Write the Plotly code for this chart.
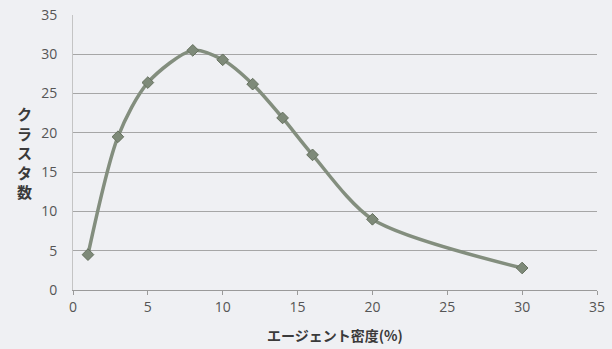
import plotly.graph_objects as go

density = [1, 3, 5, 8, 10, 12, 14, 16, 20, 30]
clusters = [4.5, 19.5, 26.4, 30.5, 29.3, 26.2, 21.9, 17.2, 9.0, 2.8]
x_ticks = [0, 5, 10, 15, 20, 25, 30, 35]
y_ticks = [0, 5, 10, 15, 20, 25, 30, 35]
x_title = "エージェント密度(%)"
y_title = "クラスタ数"

fig = go.Figure()
fig.add_trace(go.Scatter(
    x=density, y=clusters, mode="lines+markers",
    line=dict(shape="spline", smoothing=0.8, color="#838e7e", width=3.5),
    marker=dict(symbol="diamond", size=9, color="#7e8a79",
                line=dict(color="#66715f", width=1)),
    showlegend=False,
))

font_family = "Open Sans, Noto Sans CJK JP, sans-serif"
jp_font = "Noto Sans CJK JP, sans-serif"
fig.update_layout(
    width=612, height=349,
    margin=dict(l=73, r=15, t=15, b=59),
    paper_bgcolor="#eff0f3", plot_bgcolor="#eff0f3",
    font=dict(family=font_family, size=14, color="#555555"),
    xaxis=dict(range=[0, 35], tickvals=x_ticks, showgrid=False, zeroline=False,
               automargin=False,
               showline=True, linecolor="#9a9a9a", linewidth=1,
               ticks="outside", ticklen=4, tickcolor="#9a9a9a",
               title=dict(text="<b>" + x_title + "</b>",
                          font=dict(size=14, color="#3a3a3a", family=jp_font), standoff=16)),
    yaxis=dict(range=[0, 35], tickvals=y_ticks, showgrid=True, gridcolor="#a6a6a6", gridwidth=1,
               automargin=False,
               zeroline=False, showline=True, linecolor="#c4c4c4", linewidth=1,
               ticks="", ticklabelstandoff=12),
)
fig.add_annotation(
    text="<b>" + "<br>".join(list(y_title)) + "</b>", xref="paper", yref="paper",
    x=-0.092, y=0.50, showarrow=False, xanchor="center", yanchor="middle",
    font=dict(size=15, color="#3a3a3a", family=jp_font), align="center",
)
fig.write_html("out.html", config={"displayModeBar": False},
               post_script="document.body.style.margin='0';document.body.style.overflow='hidden';")
